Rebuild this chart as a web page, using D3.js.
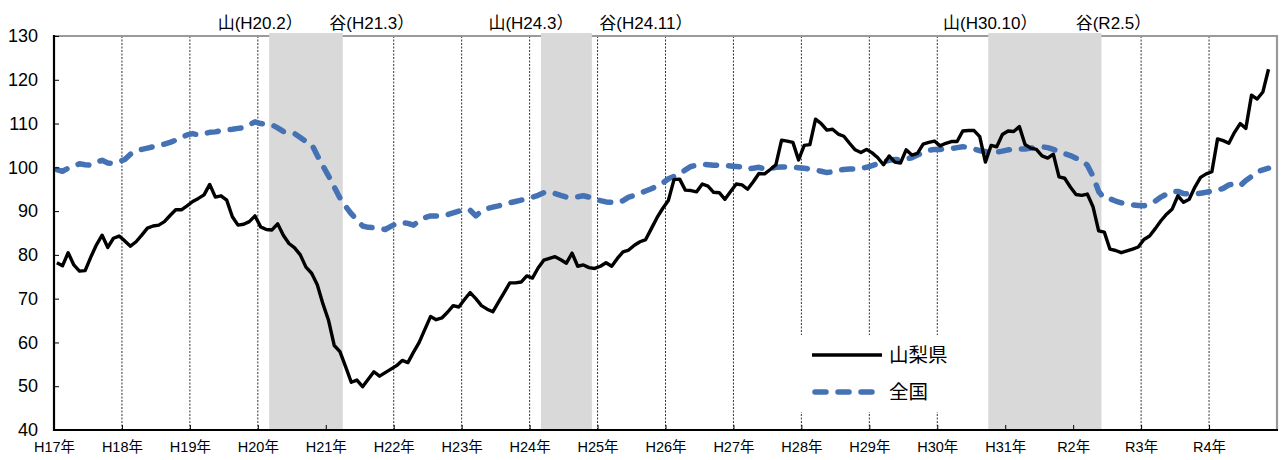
<!DOCTYPE html>
<html>
<head>
<meta charset="utf-8">
<script src="https://cdn.jsdelivr.net/npm/d3@7.9.0/dist/d3.min.js"></script>
<style>
  body { margin: 0; background: #fff; }
  svg { display: block; }
  text { font-family: "Liberation Sans", Arial, "Noto Sans CJK JP", sans-serif; fill: #000; }
  .jp { font-family: "Noto Sans CJK JP", sans-serif; }
</style>
</head>
<body>
<svg width="1283" height="460"></svg>
<script>
// 年ラベル（H17年1月から月次）
const yearLabels = ['H17年','H18年','H19年','H20年','H21年','H22年','H23年','H24年','H25年',
  'H26年','H27年','H28年','H29年','H30年','H31年','R2年','R3年','R4年'];

// 山梨県（月次、H17.1〜R4.11）
const yamanashi = [
  78.2, 77.5, 80.5, 77.7, 76.3, 76.4, 79.5, 82.3, 84.5, 81.7, 83.8, 84.3,
  83.2, 82.0, 83.0, 84.5, 86.1, 86.6, 86.8, 87.6, 89.0, 90.3, 90.3, 91.2,
  92.2, 92.9, 93.7, 96.1, 93.2, 93.5, 92.5, 88.7, 86.8, 87.0, 87.6, 88.9,
  86.4, 85.8, 85.7, 87.1, 84.5, 82.6, 81.6, 80.0, 77.2, 75.8, 73.2, 68.8,
  65.0, 59.3, 57.9, 54.5, 50.9, 51.4, 49.9, 51.6, 53.3, 52.3, 53.1, 53.9,
  54.7, 55.9, 55.4, 57.8, 60.0, 63.0, 65.9, 65.2, 65.6, 66.9, 68.4, 68.1,
  69.8, 71.4, 70.0, 68.4, 67.6, 67.0, 69.2, 71.4, 73.6, 73.6, 73.8, 75.2,
  74.7, 77.0, 78.8, 79.2, 79.6, 78.9, 78.1, 80.4, 77.4, 77.7, 77.1, 76.9,
  77.4, 78.2, 77.4, 79.2, 80.7, 81.1, 82.2, 83.0, 83.5, 86.0, 88.5, 90.6,
  92.4, 97.2, 97.3, 94.8, 94.7, 94.4, 96.2, 95.7, 94.3, 94.2, 92.7, 94.5,
  96.2, 96.0, 95.0, 96.7, 98.6, 98.5, 99.5, 100.6, 106.2, 106.0, 105.7, 101.7,
  105.0, 105.2, 111.0, 110.0, 108.5, 108.7, 107.6, 107.1, 105.5, 104.0, 103.4, 104.1,
  103.3, 102.2, 100.6, 102.6, 101.2, 101.0, 104.0, 102.8, 103.2, 105.3, 105.7, 106.0,
  104.9, 105.5, 105.9, 105.9, 108.3, 108.4, 108.4, 107.0, 101.2, 105.0, 104.7, 107.5,
  108.3, 108.2, 109.3, 105.2, 104.4, 104.1, 102.6, 102.1, 103.0, 97.8, 97.5, 95.5,
  93.8, 93.6, 93.9, 91.0, 85.5, 85.2, 81.3, 81.0, 80.5, 80.9, 81.3, 81.8,
  83.5, 84.3, 86.0, 87.8, 89.3, 90.5, 93.5, 92.0, 92.7, 95.5, 97.7, 98.5,
  99.0, 106.5, 106.1, 105.5, 108.0, 110.0, 108.9, 116.5, 115.6, 117.2, 122.4
];

// 全国（月次）
const zenkoku = [
  99.5, 99.1, 99.8, 100.3, 100.8, 100.6, 100.5, 101.2, 101.6, 101.0, 100.9, 101.3,
  101.8, 103.0, 103.8, 104.1, 104.4, 104.7, 105.0, 105.3, 105.7, 106.2, 106.8, 107.4,
  107.7, 107.4, 107.7, 108.0, 108.1, 108.4, 108.6, 108.7, 108.9, 109.1, 109.7, 110.4,
  110.0, 109.8, 109.7, 109.0, 108.2, 108.0, 107.7, 106.8, 105.9, 105.3, 102.7, 100.3,
  98.0, 95.5, 93.0, 91.1, 89.4, 88.0, 86.6, 86.3, 86.2, 86.0, 85.8, 86.5,
  87.2, 87.4, 87.2, 86.8, 87.8, 88.5, 88.9, 88.9, 88.9, 89.2, 89.6, 90.0,
  90.3, 90.2, 88.9, 90.0, 90.6, 90.9, 91.2, 91.6, 91.9, 92.2, 92.5, 92.9,
  93.2, 93.6, 94.2, 94.4, 94.0, 93.6, 93.2, 93.2, 93.3, 93.5, 93.2, 92.9,
  92.4, 92.1, 92.0, 91.9, 92.4, 93.2, 93.6, 94.1, 94.6, 95.1, 95.7, 96.4,
  97.4, 97.9, 98.5, 99.4, 100.2, 100.5, 100.7, 100.6, 100.5, 100.5, 100.4, 100.3,
  100.2, 100.1, 99.6, 99.8, 100.0, 99.6, 99.7, 100.0, 100.1, 100.1, 100.0, 99.9,
  99.8, 99.6, 99.4, 99.1, 98.8, 99.0, 99.4, 99.5, 99.6, 99.6, 99.8, 100.0,
  100.4, 100.8, 101.3, 101.6, 101.8, 101.8, 101.9, 102.2, 102.8, 103.4, 103.9, 104.1,
  104.1, 104.2, 104.3, 104.5, 104.7, 104.6, 104.2, 103.8, 103.6, 103.4, 103.5, 103.7,
  104.0, 104.1, 104.2, 104.2, 104.4, 104.5, 104.7, 104.5, 104.1, 103.7, 103.1, 102.7,
  102.1, 101.5, 100.5, 98.0, 94.5, 92.9, 92.8, 92.3, 91.9, 91.7, 91.4, 91.3,
  91.2, 91.6, 92.3, 93.2, 93.9, 94.5, 94.5, 94.0, 93.9, 93.9, 94.1, 94.3,
  94.6, 94.8, 95.2, 96.0, 96.2, 95.8, 97.0, 97.9, 99.0, 99.4, 99.8
];

const yTicks = [40, 50, 60, 70, 80, 90, 100, 110, 120, 130];

// 景気の山・谷（H17年1月からの月数の境界）
const peakLabels = ['山(H20.2）', '山(H24.3）', '山(H30.10）'];
const troughLabels = ['谷(H21.3）', '谷(H24.11）', '谷(R2.5）'];
const shadeFrom = [38, 86, 165];
const shadeTo = [51, 95, 185];

// layout
const L = 54, R = 1277, T = 36, B = 430;
const peakDx = [-9, -10, 2], troughDx = [29, 54, 12];
const svg = d3.select('svg');

const x = d3.scaleLinear().domain([0, 216]).range([L, R]);
const y = d3.scaleLinear().domain([40, 130]).range([B, T]);

// vertical year gridlines
svg.append('g').selectAll('line')
  .data(yearLabels.slice(1))
  .join('line')
  .attr('x1', (d, i) => x((i + 1) * 12)).attr('x2', (d, i) => x((i + 1) * 12))
  .attr('y1', T).attr('y2', B)
  .attr('stroke', '#000').attr('stroke-width', 0.8).attr('stroke-dasharray', '2,1.5');

// top / right border
svg.append('path')
  .attr('d', `M${L},${T}H${R}V${B}`)
  .attr('fill', 'none').attr('stroke', '#9a9a9a').attr('stroke-width', 2.2);

// recession shading
svg.append('g').selectAll('rect')
  .data(shadeFrom)
  .join('rect')
  .attr('x', d => x(d))
  .attr('width', (d, i) => x(shadeTo[i]) - x(d))
  .attr('y', T - 3).attr('height', B - T + 3)
  .attr('fill', '#d9d9d9');

// peak / trough labels
const cycleText = (labels, at, dx) => svg.append('g').selectAll('text')
  .data(labels)
  .join('text')
  .attr('x', (d, i) => x(at[i]) + dx[i])
  .attr('y', 29)
  .attr('text-anchor', 'middle')
  .attr('font-size', 17)
  .text(d => d);
cycleText(peakLabels, shadeFrom, peakDx);
cycleText(troughLabels, shadeTo, troughDx);

// legend background
svg.append('rect')
  .attr('x', 798).attr('y', 335).attr('width', 178).attr('height', 77)
  .attr('fill', '#fff');

// series
const line = d3.line().x((d, i) => x(i + 0.5)).y(d => y(d));

svg.append('path')
  .datum(zenkoku)
  .attr('d', line)
  .attr('fill', 'none')
  .attr('stroke', '#4472b4')
  .attr('stroke-width', 5.5)
  .attr('stroke-linecap', 'round')
  .attr('stroke-linejoin', 'round')
  .attr('stroke-dasharray', '11,12');

svg.append('path')
  .datum(yamanashi)
  .attr('d', line)
  .attr('fill', 'none')
  .attr('stroke', '#000')
  .attr('stroke-width', 3.4)
  .attr('stroke-linejoin', 'round');

// axes
const yAxis = d3.axisLeft(y).tickValues(yTicks).tickSize(-5).tickPadding(16);
const gy = svg.append('g').attr('transform', `translate(${L},0)`).call(yAxis);
gy.select('.domain').remove();
gy.selectAll('.tick text').attr('font-size', 18).attr('font-family', '"Liberation Sans", Arial, sans-serif');

const xAxis = d3.axisBottom(x)
  .tickValues(d3.range(yearLabels.length).map(i => i * 12))
  .tickFormat((d, i) => yearLabels[i])
  .tickSize(-5).tickPadding(14);
const gx = svg.append('g').attr('transform', `translate(0,${B})`).call(xAxis);
gx.select('.domain').remove();
gx.selectAll('.tick text').attr('font-size', 14.5)
  .attr('font-family', '"Liberation Sans", Arial, "Noto Sans CJK JP", sans-serif')
  .attr('dy', '0.55em');

svg.append('path')
  .attr('d', `M${L},${T - 1}V${B}H${R + 1}`)
  .attr('fill', 'none').attr('stroke', '#000').attr('stroke-width', 2.2);

// legend
const legend = svg.append('g');
legend.append('line')
  .attr('x1', 812).attr('x2', 882).attr('y1', 355).attr('y2', 355)
  .attr('stroke', '#000').attr('stroke-width', 3.5);
legend.append('line')
  .attr('x1', 815).attr('x2', 876).attr('y1', 392).attr('y2', 392)
  .attr('stroke', '#4472b4').attr('stroke-width', 5.5)
  .attr('stroke-linecap', 'round').attr('stroke-dasharray', '11,12');
legend.append('text').attr('class', 'jp').attr('x', 889).attr('y', 362)
  .attr('font-size', 19.5).text('山梨県');
legend.append('text').attr('class', 'jp').attr('x', 889).attr('y', 399)
  .attr('font-size', 19.5).text('全国');
</script>
</body>
</html>
